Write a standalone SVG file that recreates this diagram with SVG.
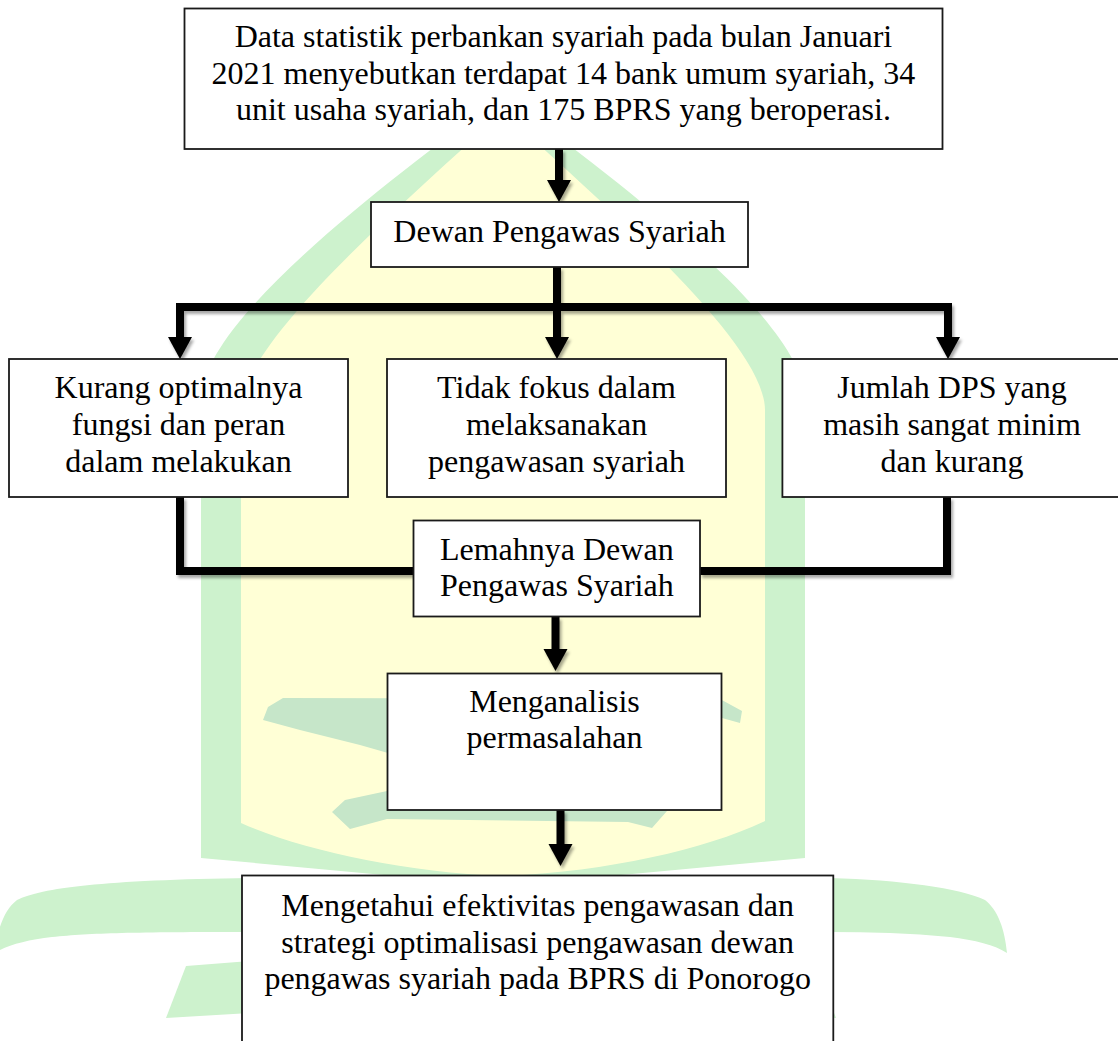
<svg xmlns="http://www.w3.org/2000/svg" width="1118" height="1041" viewBox="0 0 1118 1041">
  <defs>
    <style>
      .box{fill:#fff;stroke:#1a1a1a;stroke-width:1.8}
      .lbl{font-family:"Liberation Serif","Times New Roman",serif;font-size:32px;fill:#000;text-anchor:middle}
      .wire{fill:none;stroke:#000;stroke-width:8;stroke-linejoin:miter;stroke-linecap:butt}
      .arrow{marker-end:url(#head)}
      .wm-g{fill:#cdf2cd}
      .wm-y{fill:#ffffd6}
      .wm-d{fill:#c6e6c9}
    </style>
    <marker id="head" markerUnits="userSpaceOnUse" markerWidth="22" markerHeight="24" refX="0" refY="12" orient="auto" overflow="visible">
      <path d="M0,0 L22,12 L0,24 Z" fill="#000"/>
    </marker>
    <filter id="shadow" filterUnits="userSpaceOnUse" x="0" y="0" width="1118" height="1041">
      <feDropShadow dx="2" dy="3" stdDeviation="1.8" flood-color="#000" flood-opacity="0.35"/>
    </filter>
  </defs>

  <rect width="1118" height="1041" fill="#fff"/>

  <!-- faint emblem in the background -->
  <g id="emblem">
    <path class="wm-g" d="M201,858 L201,400 C201,320 390,180 503,95 C616,180 805,320 805,400 L805,858 L503,886 Z"/>
    <path class="wm-y" d="M241,823 L241,410 C241,345 390,215 503,112 C616,215 765,345 765,410 L765,821 C704,850 604,872 503,876 C402,872 302,850 241,823 Z"/>
    <path class="wm-d" d="M263,720 L268,707 L283,698 L720,699 L742,711 L740,723 L722,718 L388,753 L360,745 L300,730 Z"/>
    <path class="wm-d" d="M332,812 L345,800 L387,791 L640,806 L667,811 L652,828 L628,822 L387,819 L350,829 Z"/>
    <path class="wm-g" d="M830,878 C900,880 960,888 985,900 C998,910 1005,930 1007,953 C995,945 975,940 950,937 C910,933 870,932 830,932 Z"/>
    <path class="wm-g" d="M250,878 C102,880 42,888 17,900 C4,910 -3,930 -5,953 C7,945 27,940 52,937 C92,933 132,932 250,932 Z"/>
    <path class="wm-g" d="M186,966 L250,961 L250,1013 L166,1018 Z"/>
    <path class="wm-g" d="M752,961 L816,966 L836,1018 L752,1013 Z"/>
  </g>

  <!-- connectors -->
  <g id="connectors" filter="url(#shadow)">
    <path class="wire arrow" d="M559,149 V180"/>
    <path class="wire arrow" d="M557,267 V337"/>
    <path class="wire arrow" d="M557,307 H180 V337"/>
    <path class="wire arrow" d="M557,307 H948 V337"/>
    <path class="wire" d="M180,497 V571 H414"/>
    <path class="wire" d="M947,497 V571 H700"/>
    <path class="wire arrow" d="M555.5,617 V649"/>
    <path class="wire arrow" d="M560.5,810 V844"/>
  </g>

  <g id="n-data">
    <rect class="box" x="184.5" y="8.5" width="758" height="140.5"/>
    <text class="lbl" x="563.4" y="46.7">Data statistik perbankan syariah pada bulan Januari</text>
    <text class="lbl" x="563.4" y="83.5">2021 menyebutkan terdapat 14 bank umum syariah, 34</text>
    <text class="lbl" x="563.4" y="120.3">unit usaha syariah, dan 175 BPRS yang beroperasi.</text>
  </g>

  <g id="n-dps">
    <rect class="box" x="371" y="202" width="377" height="65"/>
    <text class="lbl" x="559.5" y="241.5">Dewan Pengawas Syariah</text>
  </g>

  <g id="n-kurang">
    <rect class="box" x="9" y="359" width="339" height="138"/>
    <text class="lbl" x="178.5" y="398">Kurang optimalnya</text>
    <text class="lbl" x="178.5" y="435">fungsi dan peran</text>
    <text class="lbl" x="178.5" y="472">dalam melakukan</text>
  </g>

  <g id="n-fokus">
    <rect class="box" x="387" y="359" width="339" height="138"/>
    <text class="lbl" x="556.5" y="398">Tidak fokus dalam</text>
    <text class="lbl" x="556.5" y="435">melaksanakan</text>
    <text class="lbl" x="556.5" y="472">pengawasan syariah</text>
  </g>

  <g id="n-jumlah">
    <rect class="box" x="782.4" y="359" width="339" height="138"/>
    <text class="lbl" x="952" y="398">Jumlah DPS yang</text>
    <text class="lbl" x="952" y="435">masih sangat minim</text>
    <text class="lbl" x="952" y="472">dan kurang</text>
  </g>

  <g id="n-lemah">
    <rect class="box" x="413.5" y="520.5" width="286.5" height="96"/>
    <text class="lbl" x="556.8" y="559.5">Lemahnya Dewan</text>
    <text class="lbl" x="556.8" y="596">Pengawas Syariah</text>
  </g>

  <g id="n-analisis">
    <rect class="box" x="387.5" y="673.5" width="334" height="136.5"/>
    <text class="lbl" x="554.5" y="711.5">Menganalisis</text>
    <text class="lbl" x="554.5" y="748.3">permasalahan</text>
  </g>

  <g id="n-tujuan">
    <rect class="box" x="242" y="875.5" width="591.3" height="180"/>
    <text class="lbl" x="537.7" y="916">Mengetahui efektivitas pengawasan dan</text>
    <text class="lbl" x="537.7" y="953">strategi optimalisasi pengawasan dewan</text>
    <text class="lbl" x="537.7" y="989">pengawas syariah pada BPRS di Ponorogo</text>
  </g>
</svg>
